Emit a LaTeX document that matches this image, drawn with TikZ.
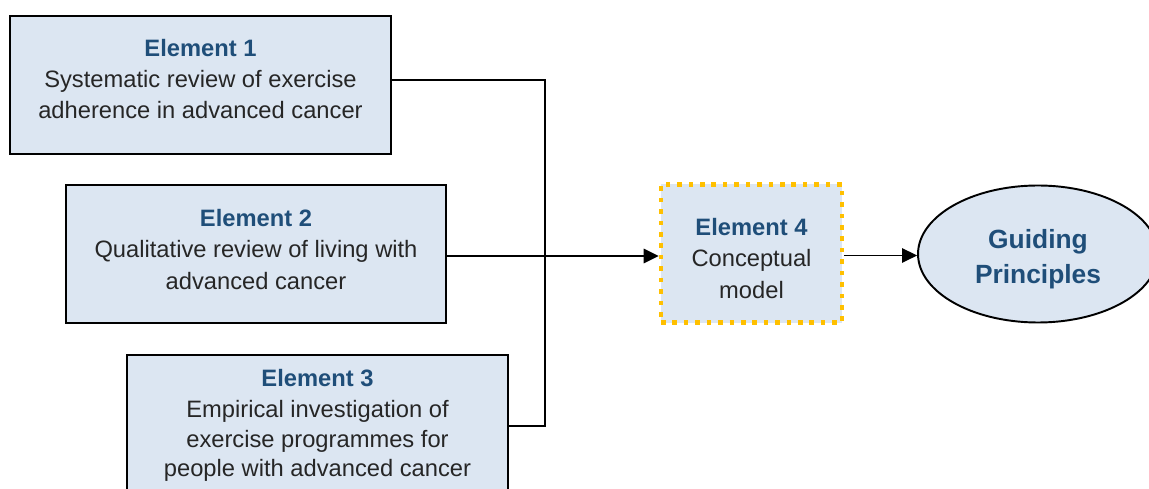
\documentclass[tikz,border=0pt]{standalone}
\usepackage{fontspec}
\setmainfont{Liberation Sans}
\usepackage{xcolor}
\usepackage{tikz}
\usetikzlibrary{positioning, calc, arrows.meta, shapes.geometric}

\definecolor{boxfill}{HTML}{DCE6F2}
\definecolor{headblue}{HTML}{1F4E79}
\definecolor{bodygrey}{HTML}{262626}
\definecolor{dotgold}{HTML}{FFC000}

\newcommand{\elhead}[1]{{\bfseries\color{headblue}#1}}

\begin{document}
\begin{tikzpicture}[x=0.02cm, y=-0.02cm,
		elbox/.style={draw=black, line width=1.1pt, fill=boxfill,
			inner sep=0pt, minimum height=2.77cm},
		eltext/.style={align=center, text=bodygrey, inner sep=0pt,
			font=\fontsize{13.5}{17.9}\selectfont},
		modelbox/.style={elbox, draw=dotgold, line width=2.6pt,
			dash pattern=on 2.6pt off 3.9pt, minimum width=3.62cm},
		goal/.style={ellipse, draw=black, line width=1.1pt, fill=boxfill, inner sep=0pt,
			minimum width=4.8cm, minimum height=2.74cm},
		goaltext/.style={align=center, text=headblue, inner sep=0pt,
			font=\fontsize{15}{20}\selectfont\bfseries},
		link/.style={line width=0.85pt},
		arr/.style={link, -{Triangle[length=0.3cm, width=0.29cm]}}]
			\useasboundingbox (0,0) rectangle (1149,489);
			
			% the three elements on the left
			\node[elbox, minimum width=7.62cm] (el1) at (200.5, 85)  {};
			\node[elbox, minimum width=7.6cm]  (el2) at (256, 254)   {};
			\node[elbox, minimum width=7.62cm] (el3) at (317.5, 424) {};
			\node[eltext] (el1txt) at (200.5, 79)  {\elhead{Element 1}\\Systematic review of exercise\\adherence in advanced cancer};
			\node[eltext] (el2txt) at (256, 249.5) {\elhead{Element 2}\\Qualitative review of living with\\advanced cancer};
			\node[eltext, font=\fontsize{13.5}{16.6}\selectfont] (el3txt) at (317.5, 425) {\elhead{Element 3}\\[1.5pt]Empirical investigation of\\exercise programmes for\\people with advanced cancer};
			
			% model and outcome
			\node[modelbox] (el4) at (751.5, 253.5) {};
			\node[eltext] (el4txt) at (751.5, 258.5) {\elhead{Element 4}\\Conceptual\\model};
			\node[goal] (gp) at (1038, 254) {};
			\node[goaltext] (gptxt) at (1038, 259) {Guiding\\Principles};
			
			\coordinate (jn) at (545, 247);
			
			\draw[link] ([yshift=0.1cm]el1.east) -| (jn);
			\draw[link] ([yshift=-0.04cm]el3.east) -| (jn);
			\draw[arr] ([yshift=-0.04cm]el2.east) -- ([yshift=-0.04cm]el2.east -| el4.west);
			\draw[arr] ([yshift=-0.04cm]el4.east) -- ([yshift=-0.04cm]el4.east -| gp.west);
		\end{tikzpicture}
\end{document}
